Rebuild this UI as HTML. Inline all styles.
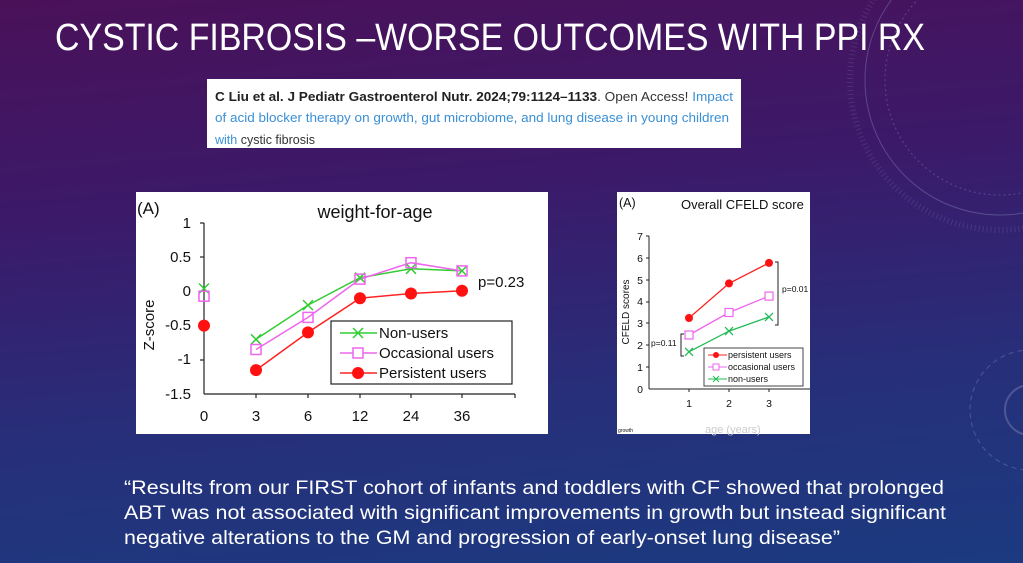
<!DOCTYPE html>
<html><head><meta charset="utf-8"><style>
html,body{margin:0;padding:0;}
body{width:1023px;height:563px;overflow:hidden;background:linear-gradient(175deg,#4a1159 0%,#3b1a6a 35%,#26307a 70%,#1b3a80 100%);}
svg{display:block;font-family:"Liberation Sans",sans-serif;}
</style></head><body>
<svg width="1023" height="563" viewBox="0 0 1023 563">
<g fill="none" stroke="#8e8fc0" stroke-opacity="0.4">
<circle cx="1000" cy="80" r="135"/>
<circle cx="1000" cy="80" r="115" stroke-dasharray="2 3"/>
<circle cx="1000" cy="80" r="150" stroke-dasharray="1 3" stroke-width="6" stroke-opacity="0.2"/>
<circle cx="1030" cy="410" r="60" stroke-dasharray="5 4"/>
<circle cx="1030" cy="410" r="25" stroke-width="2"/>
</g>
<text x="55" y="50" fill="#fff" font-size="38" textLength="870" lengthAdjust="spacingAndGlyphs">CYSTIC FIBROSIS –WORSE OUTCOMES WITH PPI RX</text>

<rect x="207" y="79" width="534" height="69" fill="#fff"/>
<g font-size="12.5">
<text x="215" y="101" textLength="518" lengthAdjust="spacingAndGlyphs"><tspan font-weight="bold" fill="#222">C Liu et al. J Pediatr Gastroenterol Nutr. 2024;79:1124–1133</tspan><tspan fill="#333">. Open Access! </tspan><tspan fill="#3a8fd6">Impact</tspan></text>
<text x="215" y="122" fill="#3a8fd6" textLength="514" lengthAdjust="spacingAndGlyphs">of acid blocker therapy on growth, gut microbiome, and lung disease in young children</text>
<text x="215" y="144"><tspan fill="#3a8fd6">with</tspan><tspan fill="#333"> cystic fibrosis</tspan></text>
</g>

<rect x="136" y="192" width="412" height="242" fill="#fff"/>
<g font-size="15" fill="#111">
<text x="137" y="214" font-size="17">(A)</text>
<text x="375" y="218" font-size="18" text-anchor="middle">weight-for-age</text>
<text transform="translate(154,325) rotate(-90)" text-anchor="middle" font-size="15">Z-score</text>
<g text-anchor="end">
<text x="191" y="228">1</text><text x="191" y="262">0.5</text><text x="191" y="296">0</text><text x="191" y="330">-0.5</text><text x="191" y="364">-1</text><text x="191" y="399">-1.5</text>
</g>
<g text-anchor="middle">
<text x="204" y="421">0</text><text x="256" y="421">3</text><text x="308" y="421">6</text><text x="360" y="421">12</text><text x="411" y="421">24</text><text x="462" y="421">36</text>
</g>
<text x="478" y="287">p=0.23</text>
</g>
<g stroke="#222" stroke-width="1.2">
<line x1="204" y1="223" x2="204" y2="394"/>
<line x1="204" y1="394" x2="515" y2="394"/>
<line x1="200" y1="223" x2="204" y2="223"/><line x1="200" y1="257" x2="204" y2="257"/><line x1="200" y1="291" x2="204" y2="291"/><line x1="200" y1="326" x2="204" y2="326"/><line x1="200" y1="360" x2="204" y2="360"/>
<line x1="256" y1="394" x2="256" y2="398"/><line x1="308" y1="394" x2="308" y2="398"/><line x1="360" y1="394" x2="360" y2="398"/><line x1="411" y1="394" x2="411" y2="398"/><line x1="462" y1="394" x2="462" y2="398"/><line x1="515" y1="394" x2="515" y2="398"/>
</g>
<polyline fill="none" stroke="#3c3" stroke-width="1.5" points="256,339.3 308,305.1 360,277.7 411,268.8 462,270.9"/>
<polyline fill="none" stroke="#e6e" stroke-width="1.5" points="256,349.5 308,317.4 360,279.1 411,262.7 462,270.9"/>
<polyline fill="none" stroke="#f22" stroke-width="1.5" points="256,370.1 308,332.4 360,298.2 411,293.5 462,290.7"/>
<g stroke="#3c3" stroke-width="1.5">
<path d="M199,283.5l10,10M209,283.5l-10,10M251,334.3l10,10M261,334.3l-10,10M303,300.1l10,10M313,300.1l-10,10M355,272.7l10,10M365,272.7l-10,10M406,263.8l10,10M416,263.8l-10,10M457,265.9l10,10M467,265.9l-10,10"/>
</g>
<g fill="none" stroke="#e6e" stroke-width="1.5">
<rect x="199" y="291.2" width="10" height="10"/><rect x="251" y="344.5" width="10" height="10"/><rect x="303" y="312.4" width="10" height="10"/><rect x="355" y="274.1" width="10" height="10"/><rect x="406" y="257.7" width="10" height="10"/><rect x="457" y="265.9" width="10" height="10"/>
</g>
<g fill="#f11">
<circle cx="204" cy="325.6" r="6"/><circle cx="256" cy="370.1" r="6"/><circle cx="308" cy="332.4" r="6"/><circle cx="360" cy="298.2" r="6"/><circle cx="411" cy="293.5" r="6"/><circle cx="462" cy="290.7" r="6"/>
</g>
<rect x="331" y="321" width="181" height="63" fill="#fff" stroke="#222" stroke-width="1.2"/>
<g stroke-width="1.5">
<line x1="340" y1="333" x2="377" y2="333" stroke="#3c3"/><path d="M353,328l10,10M363,328l-10,10" stroke="#3c3"/>
<line x1="340" y1="353" x2="377" y2="353" stroke="#e6e"/><rect x="353" y="348" width="10" height="10" fill="#fff" stroke="#e6e"/>
<line x1="340" y1="373" x2="377" y2="373" stroke="#f22"/><circle cx="358" cy="373" r="6" fill="#f11"/>
</g>
<g font-size="15" fill="#111">
<text x="379" y="338">Non-users</text><text x="379" y="358">Occasional users</text><text x="379" y="378">Persistent users</text>
</g>

<rect x="617" y="192" width="193" height="242" fill="#fff"/>
<g fill="#111" font-size="10.5">
<text x="619" y="207" font-size="12.5">(A)</text>
<text x="681" y="209" font-size="13">Overall CFELD score</text>
<text transform="translate(629,312) rotate(-90)" text-anchor="middle" font-size="10">CFELD scores</text>
<g text-anchor="end">
<text x="643" y="240">7</text><text x="643" y="262">6</text><text x="643" y="284">5</text><text x="643" y="305">4</text><text x="643" y="327">3</text><text x="643" y="349">2</text><text x="643" y="371">1</text><text x="643" y="393">0</text>
</g>
<g text-anchor="middle"><text x="689" y="407">1</text><text x="729" y="407">2</text><text x="769" y="407">3</text></g>
<text x="651" y="346" font-size="8.5">p=0.11</text>
<text x="782" y="292" font-size="8.5">p=0.01</text>
<text x="618" y="432" font-size="5">growth</text>
<text x="705" y="433" fill="#ccc" font-size="11">age (years)</text>
</g>
<g stroke="#222" stroke-width="1">
<line x1="649" y1="236" x2="649" y2="389"/><line x1="649" y1="389" x2="810" y2="389"/>
<path d="M646,236h3M646,258h3M646,280h3M646,302h3M646,323h3M646,345h3M646,367h3M689,389v3M729,389v3M769,389v3"/>
<path d="M684,334h-3v22h3M775,262h3v63h-3" fill="none"/>
</g>
<polyline fill="none" stroke="#f22" stroke-width="1.3" points="689,318 729,283.4 769,262.9"/>
<polyline fill="none" stroke="#e6e" stroke-width="1.3" points="689,335 729,312.5 769,296.1"/>
<polyline fill="none" stroke="#2b5" stroke-width="1.3" points="689,351.8 729,331.1 769,316.9"/>
<g fill="#f11"><circle cx="689" cy="318" r="4"/><circle cx="729" cy="283.4" r="4"/><circle cx="769" cy="262.9" r="4"/></g>
<g fill="#fff" stroke="#e6e" stroke-width="1.2"><rect x="685" y="331" width="8" height="8"/><rect x="725" y="308.5" width="8" height="8"/><rect x="765" y="292.1" width="8" height="8"/></g>
<path d="M685,347.8l8,8M693,347.8l-8,8M725,327.1l8,8M733,327.1l-8,8M765,312.9l8,8M773,312.9l-8,8" stroke="#2b5" stroke-width="1.3"/>
<rect x="704" y="348" width="99" height="38" fill="#fff" stroke="#444"/>
<line x1="708" y1="355" x2="727" y2="355" stroke="#f22"/><circle cx="716" cy="355" r="3" fill="#f11"/>
<line x1="708" y1="367" x2="727" y2="367" stroke="#e6e"/><rect x="713" y="364" width="6" height="6" fill="#fff" stroke="#e6e"/>
<line x1="708" y1="379" x2="727" y2="379" stroke="#2b5"/><path d="M713,376l6,6M719,376l-6,6" stroke="#2b5"/>
<g font-size="9" fill="#111"><text x="728" y="358">persistent users</text><text x="728" y="370">occasional users</text><text x="728" y="382">non-users</text></g>

<g fill="#fff" font-size="19.5">
<text x="124" y="494" textLength="820" lengthAdjust="spacingAndGlyphs">“Results from our FIRST cohort of infants and toddlers with CF showed that prolonged</text>
<text x="124" y="519" textLength="822" lengthAdjust="spacingAndGlyphs">ABT was not associated with significant improvements in growth but instead significant</text>
<text x="124" y="544" textLength="716" lengthAdjust="spacingAndGlyphs">negative alterations to the GM and progression of early-onset lung disease”</text>
</g>
</svg>
</body></html>
